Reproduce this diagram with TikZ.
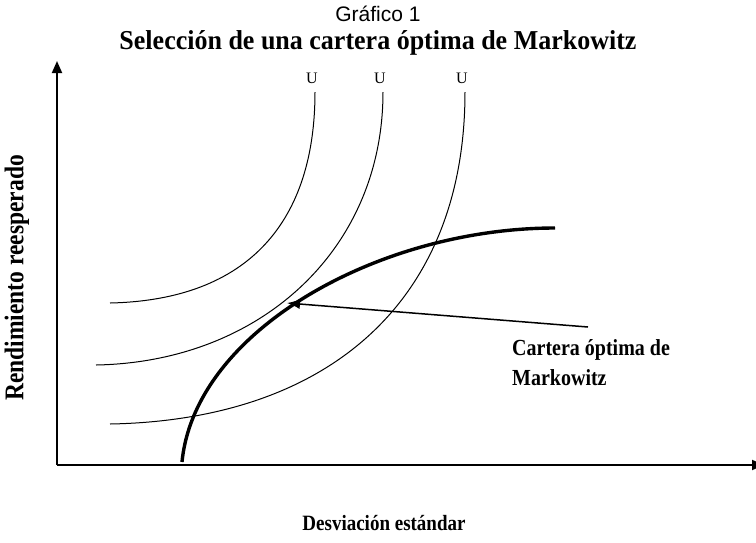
\documentclass[tikz,border=0pt]{standalone}
\usepackage{fontspec}
\setmainfont{Liberation Serif}
\newfontfamily\arialfont{Liberation Sans}
\usetikzlibrary{arrows.meta}
\newcommand{\alto}[1]{\scalebox{1}[1.15]{#1}}
\tikzset{
  ejes/.style={line width=1.8pt,-{Triangle[length=12pt,width=10pt]}},
  curvaU/.style={line width=1pt},
  frontera/.style={line width=3.4pt},
  etiq/.style={font=\bfseries\fontsize{19}{22}\selectfont,inner sep=0pt}
}
\begin{document}
\begin{tikzpicture}[x=1pt,y=-1pt]
      \useasboundingbox (0,0) rectangle (756,542);
      % titulos
      \node [inner sep=0pt] (tit) at (378,14) {\arialfont\fontsize{21}{23}\selectfont Gráfico 1};
      \node [etiq,font=\bfseries\fontsize{26}{28}\selectfont] (sub) at (378,43)
        {\scalebox{1}[1.05]{Selección de una cartera óptima de Markowitz}};
      % ejes
      \coordinate (o) at (57,465);
      \coordinate (ytop) at (57,61);
      \coordinate (xend) at (764,465);
      \draw [ejes] (o) -- (ytop);
      \draw [ejes] (o) -- (xend);
      \node [etiq,rotate=90,font=\bfseries\fontsize{23.5}{26}\selectfont] (ylab) at (17,278)
        {\alto{Rendimiento reesperado}};
      \node [etiq] (xlab) at (384,523) {\alto{Desviación estándar}};
      % curvas de indiferencia
      \draw [curvaU] (110,303) .. controls (250,300) and (315,220) .. (315,92);
      \draw [curvaU] (96,365) .. controls (260,362) and (383,250) .. (383,92);
      \draw [curvaU] (110,424) .. controls (330,420) and (465,300) .. (465,92);
      \node [font=\fontsize{16}{17}\selectfont] (u1) at (312,78) {U};
      \node [font=\fontsize{16}{17}\selectfont] (u2) at (380,78) {U};
      \node [font=\fontsize{16}{17}\selectfont] (u3) at (462,78) {U};
      % frontera eficiente
      \draw [frontera] (182,462) .. controls (195,330) and (380,228) .. (555,228);
      % cartera optima
      \coordinate (opt) at (287,303);
      \coordinate (flecha) at (588,327);
      \draw [line width=1.5pt,-{Latex[length=13pt,width=10pt]}] (flecha) -- (opt);
      \node [etiq,anchor=north west,align=left,font=\bfseries\fontsize{20}{30}\selectfont] (cartera) at (512,339)
        {\alto{Cartera óptima de}\\\alto{Markowitz}};
    \end{tikzpicture}
\end{document}
